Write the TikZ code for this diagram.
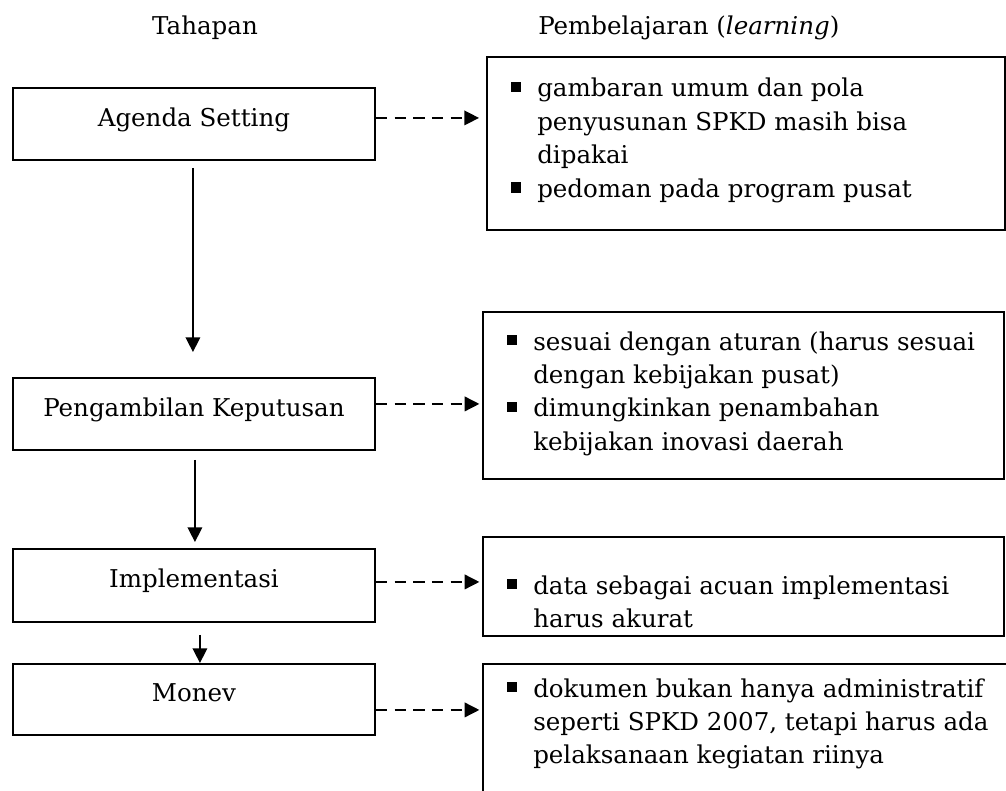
\documentclass[tikz,border=0pt]{standalone}
\usepackage{fontspec}
\setmainfont{DejaVu Serif}
\usetikzlibrary{arrows.meta,calc}
\newcommand\sqbul{\leavevmode\llap{\rule[3.5pt]{8pt}{8pt}\hspace{12pt}}}
\newcommand\rtxt[1]{\parbox[t]{480pt}{\raggedright\fontsize{18.4}{25.1}\selectfont #1}}
\begin{document}
\begin{tikzpicture}[x=0.75pt,y=-0.75pt, font=\fontsize{18.4}{25.1}\selectfont,
 lbox/.style={draw, line width=1.4pt, minimum width=271.5pt, minimum height=54pt, inner sep=0pt, anchor=north west, text height=10pt, text depth=6.2pt},
 rbox/.style={draw, line width=1.4pt, inner sep=0pt, anchor=north west},
 rtext/.style={inner sep=0pt, anchor=base west},
 head/.style={inner sep=0pt, anchor=base},
 flow/.style={-{Triangle[length=11pt,width=11pt]}, line width=1.1pt},
 link/.style={-{Triangle[length=11pt,width=11pt]}, line width=1.1pt, dash pattern=on 8.7pt off 5.3pt}
]
\useasboundingbox (0,0) rectangle (1006,791);
\clip (0,0) rectangle (1006,791);

% headers
\node[head] (h1) at (205,35) {Tahapan};
\node[rtext] (h2) at (538,35) {Pembelajaran (\textit{learning})};

% left boxes
\node[lbox] (a) at (12,87) {Agenda Setting};
\node[lbox] (b) at (12,377) {Pengambilan Keputusan};
\node[lbox, minimum height=54.75pt] (c) at (12,548) {Implementasi};
\node[lbox, minimum height=53.25pt] (d) at (12,663) {Monev};

% right boxes
\node[rbox, minimum width=388.5pt, minimum height=129.75pt] (r1) at (486,56) {};
\node[rbox, minimum width=390.75pt, minimum height=125.25pt] (r2) at (482,311) {};
\node[rbox, minimum width=390.75pt, minimum height=74.25pt] (r3) at (482,536) {};
\node[rbox, minimum width=420pt, minimum height=150pt] (r4) at (482,663) {};

% right texts
\node[rtext] (t1) at (537,97) {\rtxt{\sqbul gambaran umum dan pola\\penyusunan SPKD masih bisa\\dipakai\\\sqbul pedoman pada program pusat}};
\node[rtext] (t2) at (533,350) {\rtxt{\sqbul sesuai dengan aturan (harus sesuai\\dengan kebijakan pusat)\\\sqbul dimungkinkan penambahan\\kebijakan inovasi daerah}};
\node[rtext] (t3) at (533,594) {\rtxt{\sqbul data sebagai acuan implementasi\\harus akurat}};
\node[rtext] (t4) at (533,697) {\rtxt{\sqbul dokumen bukan hanya administratif\\seperti SPKD 2007, tetapi harus ada\\pelaksanaan kegiatan riinya}};

% vertical flow arrows
\draw[flow, shorten <=5.25pt, shorten >=18.75pt] ([xshift=-0.75pt]a.south) -- ([xshift=-0.75pt]b.north);
\draw[flow, shorten <=6.75pt, shorten >=4.5pt] ([xshift=0.75pt]b.south) -- ([xshift=0.75pt]c.north);
\draw[flow, shorten <=9pt] ([xshift=4.5pt]c.south) -- ([xshift=4.5pt]d.north);

% dashed links
\coordinate (pa) at ($(a.east)+(0,-6)$);
\coordinate (pb) at ($(b.east)+(0,-10)$);
\coordinate (pc) at ($(c.east)+(0,-3.5)$);
\coordinate (pd) at ($(d.east)+(0,10.5)$);
\draw[link, shorten >=5.25pt] (pa) -- (pa -| r1.west);
\draw[link, shorten >=2pt] (pb) -- (pb -| r2.west);
\draw[link, shorten >=2pt] (pc) -- (pc -| r3.west);
\draw[link, shorten >=2pt] (pd) -- (pd -| r4.west);
\end{tikzpicture}
\end{document}
